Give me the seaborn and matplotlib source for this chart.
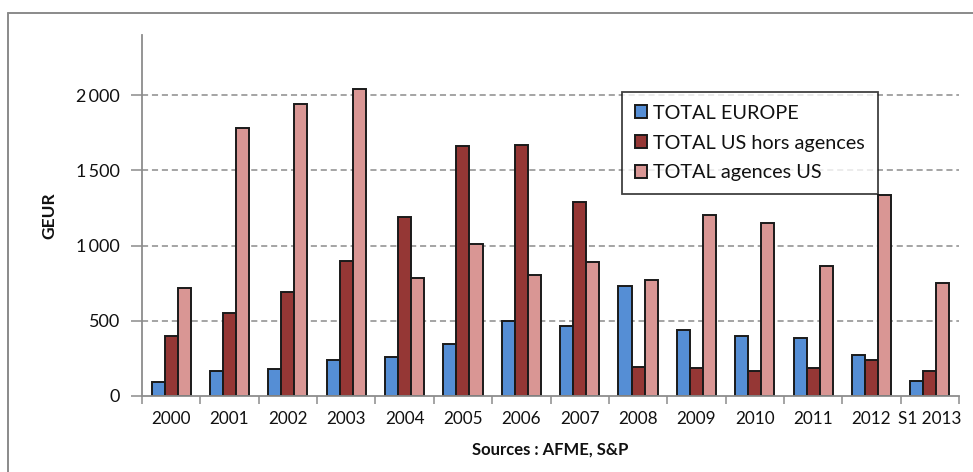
import numpy as np
import pandas as pd
import matplotlib
matplotlib.use("Agg")
import matplotlib.pyplot as plt
from matplotlib.lines import Line2D
from matplotlib.ticker import FixedLocator, FuncFormatter
import seaborn as sns

periods = ["2000", "2001", "2002", "2003", "2004", "2005", "2006",
           "2007", "2008", "2009", "2010", "2011", "2012", "S1 2013"]
total_europe = [93, 166, 177, 239, 259, 343, 500, 467, 731, 437, 397, 383, 270, 102]
total_us_hors_agences = [399, 554, 689, 899, 1189, 1663, 1672, 1287, 195, 184, 166, 186, 239, 166]
total_agences_us = [720, 1779, 1938, 2040, 784, 1012, 804, 888, 773, 1205, 1152, 866, 1338, 751]
series_names = ["TOTAL EUROPE", "TOTAL US hors agences", "TOTAL agences US"]
series_colors = ["#558ED5", "#953735", "#D99694"]
y_ticks = [0, 500, 1000, 1500, 2000]

df = pd.DataFrame({
    "periode": periods * 3,
    "serie": [series_names[0]] * len(periods)
             + [series_names[1]] * len(periods)
             + [series_names[2]] * len(periods),
    "valeur": total_europe + total_us_hors_agences + total_agences_us,
})

sns.set_theme(style="white")
plt.rcParams["font.family"] = ["Lato", "DejaVu Sans"]

fig = plt.figure(figsize=(9.73, 4.72), dpi=100)
ax = fig.add_axes([142 / 973, 1 - 396 / 472, (959 - 142) / 973, (396 - 35) / 472])

sns.barplot(data=df, x="periode", y="valeur", hue="serie", order=periods,
            hue_order=series_names, palette=series_colors, width=0.67,
            edgecolor="#1a1a1a", linewidth=1.4, saturation=1, ax=ax)

ax.set_xlim(-0.5, len(periods) - 0.5)
ax.set_ylim(0, 2400)

# dashed horizontal grid
for v in y_ticks[1:]:
    ax.axhline(v, color="#8c8c8c", lw=1.1, ls=(0, (4, 2.5)), zorder=0)

gray = "#8c8c8c"
for side in ["top", "right"]:
    ax.spines[side].set_visible(False)
for side in ["left", "bottom"]:
    ax.spines[side].set_color(gray)
    ax.spines[side].set_linewidth(1.3)

ax.yaxis.set_major_locator(FixedLocator(y_ticks))
ax.yaxis.set_major_formatter(FuncFormatter(lambda v, p: f"{int(v):,}".replace(",", "\u2009")))
ax.tick_params(axis="y", which="major", length=8, width=1.1, color=gray,
               labelsize=13, pad=8, left=True, labelcolor="#111111")

ax.set_xticks(range(len(periods)))
ax.set_xticklabels(periods)
ax.tick_params(axis="x", which="major", length=0, labelsize=12.3, pad=11, labelcolor="#111111")
ax.xaxis.set_minor_locator(FixedLocator(np.arange(-0.5, len(periods), 1.0)))
ax.tick_params(axis="x", which="minor", length=6, width=1.1, color=gray, bottom=True)

ax.set_ylabel("GEUR", fontsize=12.5, fontweight="bold", labelpad=13, color="#111111")
ax.set_xlabel("Sources : AFME, S&P", fontsize=12, fontweight="bold", labelpad=10, color="#111111")

handles, labels = ax.get_legend_handles_labels()
leg = ax.legend(handles, labels, loc="upper left", bbox_to_anchor=(622 / 973, 1 - 92 / 472),
                bbox_transform=fig.transFigure, frameon=True, fancybox=False,
                fontsize=14.3, handlelength=0.62, handleheight=0.62, handletextpad=0.3,
                labelspacing=0.64, borderpad=0.65, borderaxespad=0, title=None)
leg.get_frame().set_edgecolor("#111111")
leg.get_frame().set_linewidth(1.3)
for t in leg.get_texts():
    t.set_color("#111111")

# chart area frame
fig.add_artist(Line2D([8 / 973, 8 / 973], [0, 1 - 12.5 / 472], transform=fig.transFigure,
                      color="#8a8a8a", lw=1.4))
fig.add_artist(Line2D([8 / 973, 1], [1 - 12.5 / 472, 1 - 12.5 / 472], transform=fig.transFigure,
                      color="#8a8a8a", lw=1.4))

fig.savefig("out.png", dpi=100)
